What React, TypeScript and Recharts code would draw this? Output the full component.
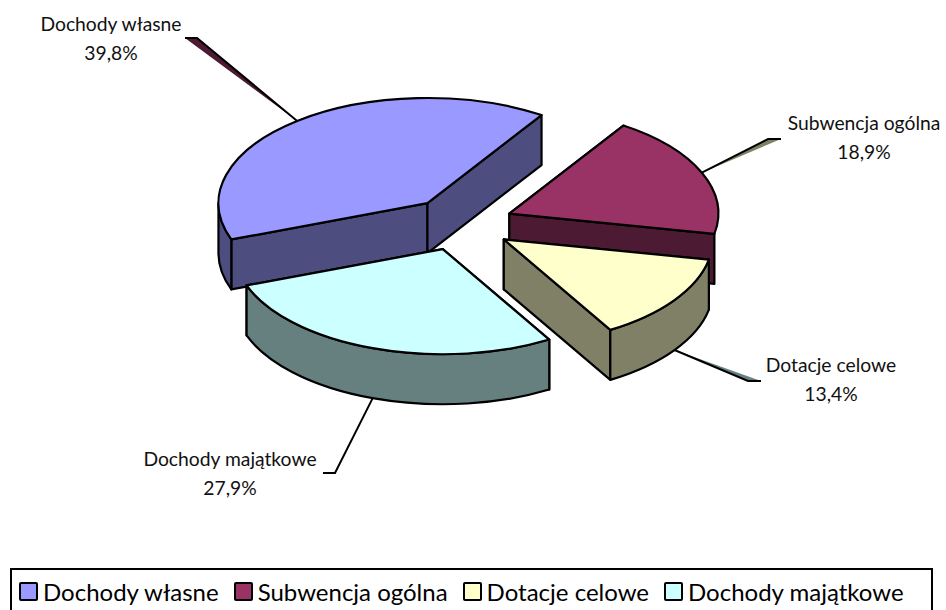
import { Legend, Pie, PieChart } from 'recharts';

const names = ['Dochody własne', 'Subwencja ogólna', 'Dotacje celowe', 'Dochody majątkowe'];
const shares = [39.8, 18.9, 13.4, 27.9];
const topColors = ['#9999FF', '#993366', '#FFFFCC', '#CCFFFF'];
const sideColors = ['#4D4D80', '#4D1A33', '#808066', '#668080'];
const leaderTints = ['#4D1A33', '#808066', '#668080', 'none'];

// elbow and tail of each leader, then where the two label lines are centred
const elbows = [[197, 38], [768, 139], [748, 381], [335, 473]];
const tails = [[185, 38], [781, 139], [761, 381], [323, 473]];
const labelSpots = [[111, 31], [864, 130], [831, 372], [230, 466]];

const TILT = 0.503;
const DEPTH = 50;
const EXPLODE = 53;
const RAD = Math.PI / 180;

const slices = names.map((name, i) => ({
  name,
  value: shares[i],
  fill: topColors[i],
  side: sideColors[i],
  tint: leaderTints[i],
  idx: i,
}));

const fmt = (v: number) => `${v.toFixed(1).replace('.', ',')}%`;

// apex of an exploded slice, on the squashed plane
function apex(cx: number, cy: number, mid: number) {
  return {
    x: cx + EXPLODE * Math.cos(mid * RAD),
    y: cy - TILT * EXPLODE * Math.sin(mid * RAD),
  };
}

function rim(ax: number, ay: number, r: number, a: number) {
  return { x: ax + r * Math.cos(a * RAD), y: ay - TILT * r * Math.sin(a * RAD) };
}

function Slice3D(props: any) {
  const { cx, cy, outerRadius: r, startAngle, endAngle, fill, payload } = props;
  const mid = (startAngle + endAngle) / 2;
  const c = apex(cx, cy, mid);
  const ry = r * TILT;
  const p1 = rim(c.x, c.y, r, startAngle);
  const p2 = rim(c.x, c.y, r, endAngle);
  const large = Math.abs(startAngle - endAngle) > 180 ? 1 : 0;
  const line = { stroke: '#000', strokeWidth: 2.2, strokeLinejoin: 'round' as const };

  const wall = (p: { x: number; y: number }) =>
    `M${c.x},${c.y} L${p.x},${p.y} L${p.x},${p.y + DEPTH} L${c.x},${c.y + DEPTH} Z`;

  // the rim only shows on the lower half of the ellipse (180..360 in chart angles)
  const norm = (a: number) => ((a % 360) + 360) % 360;
  let hi = norm(startAngle);
  let lo = hi - (startAngle - endAngle);
  hi = Math.min(hi, 360);
  lo = Math.max(lo, 180);
  const rimWall =
    hi > lo
      ? (() => {
          const a = rim(c.x, c.y, r, hi);
          const b = rim(c.x, c.y, r, lo);
          return `M${a.x},${a.y} A${r},${ry} 0 0 1 ${b.x},${b.y} L${b.x},${b.y + DEPTH} A${r},${ry} 0 0 0 ${a.x},${a.y + DEPTH} Z`;
        })()
      : null;

  return (
    <g>
      <path d={wall(p1)} fill={payload.side} {...line} />
      <path d={wall(p2)} fill={payload.side} {...line} />
      {rimWall && <path d={rimWall} fill={payload.side} {...line} />}
      <path
        d={`M${c.x},${c.y} L${p1.x},${p1.y} A${r},${ry} 0 ${large} 1 ${p2.x},${p2.y} Z`}
        fill={fill}
        {...line}
      />
    </g>
  );
}

function LeaderLine(props: any) {
  const { cx, cy, outerRadius: r, midAngle, payload } = props;
  const i = payload.idx;
  const c = apex(cx, cy, midAngle);
  const s = rim(c.x, c.y, r, midAngle);
  // slices on the front half leave from the bottom of the rim
  const y0 = Math.sin(midAngle * RAD) < 0 ? s.y + DEPTH : s.y;
  const [ex, ey] = elbows[i];
  const [tx, ty] = tails[i];
  return (
    <g>
      {payload.tint !== 'none' && (
        <polygon points={`${s.x},${y0} ${ex},${ey} ${tx},${ty}`} fill={payload.tint} />
      )}
      <polyline
        points={`${s.x},${y0} ${ex},${ey} ${tx},${ty}`}
        fill="none"
        stroke="#000"
        strokeWidth={2}
      />
    </g>
  );
}

function SliceLabel(props: any) {
  const { payload } = props;
  const [x, y] = labelSpots[payload.idx];
  return (
    <text x={x} y={y} textAnchor="middle" fontFamily="Lato" fontSize={19.3} fill="#111">
      <tspan x={x}>{payload.name}</tspan>
      <tspan x={x} dy={29}>{fmt(payload.value)}</tspan>
    </text>
  );
}

function LegendBox({ payload }: any) {
  return (
    <div
      style={{
        display: 'flex',
        alignItems: 'center',
        height: '100%',
        boxSizing: 'border-box',
        border: '2px solid #000',
        paddingLeft: 7,
        fontFamily: 'Lato',
        fontSize: 24,
        color: '#000',
      }}
    >
      {(payload ?? []).map((item: any) => (
        <span
          key={item.value}
          style={{ display: 'inline-flex', alignItems: 'center', marginRight: 15 }}
        >
          <span
            style={{
              width: 15,
              height: 15,
              border: '2px solid #000',
              borderRadius: 2,
              background: item.color,
              marginRight: 5,
              display: 'inline-block',
            }}
          />
          {item.value}
        </span>
      ))}
    </div>
  );
}

export default function App() {
  return (
    <div style={{ position: 'absolute', left: 0, top: 0, width: 946, height: 610 }}>
      <PieChart width={946} height={610} margin={{ top: 0, right: 0, bottom: 0, left: 0 }}>
        <Pie
          data={slices}
          dataKey="value"
          nameKey="name"
          cx={460.5}
          cy={224}
          outerRadius={209}
          startAngle={-159.8}
          endAngle={-519.8}
          stroke="#000"
          shape={Slice3D}
          label={SliceLabel}
          labelLine={LeaderLine}
          isAnimationActive={false}
        />
        <Legend
          content={LegendBox}
          itemSorter={null}
          wrapperStyle={{ position: 'absolute', left: 10, top: 568, width: 923, height: 46, bottom: 'auto' }}
        />
      </PieChart>
    </div>
  );
}
